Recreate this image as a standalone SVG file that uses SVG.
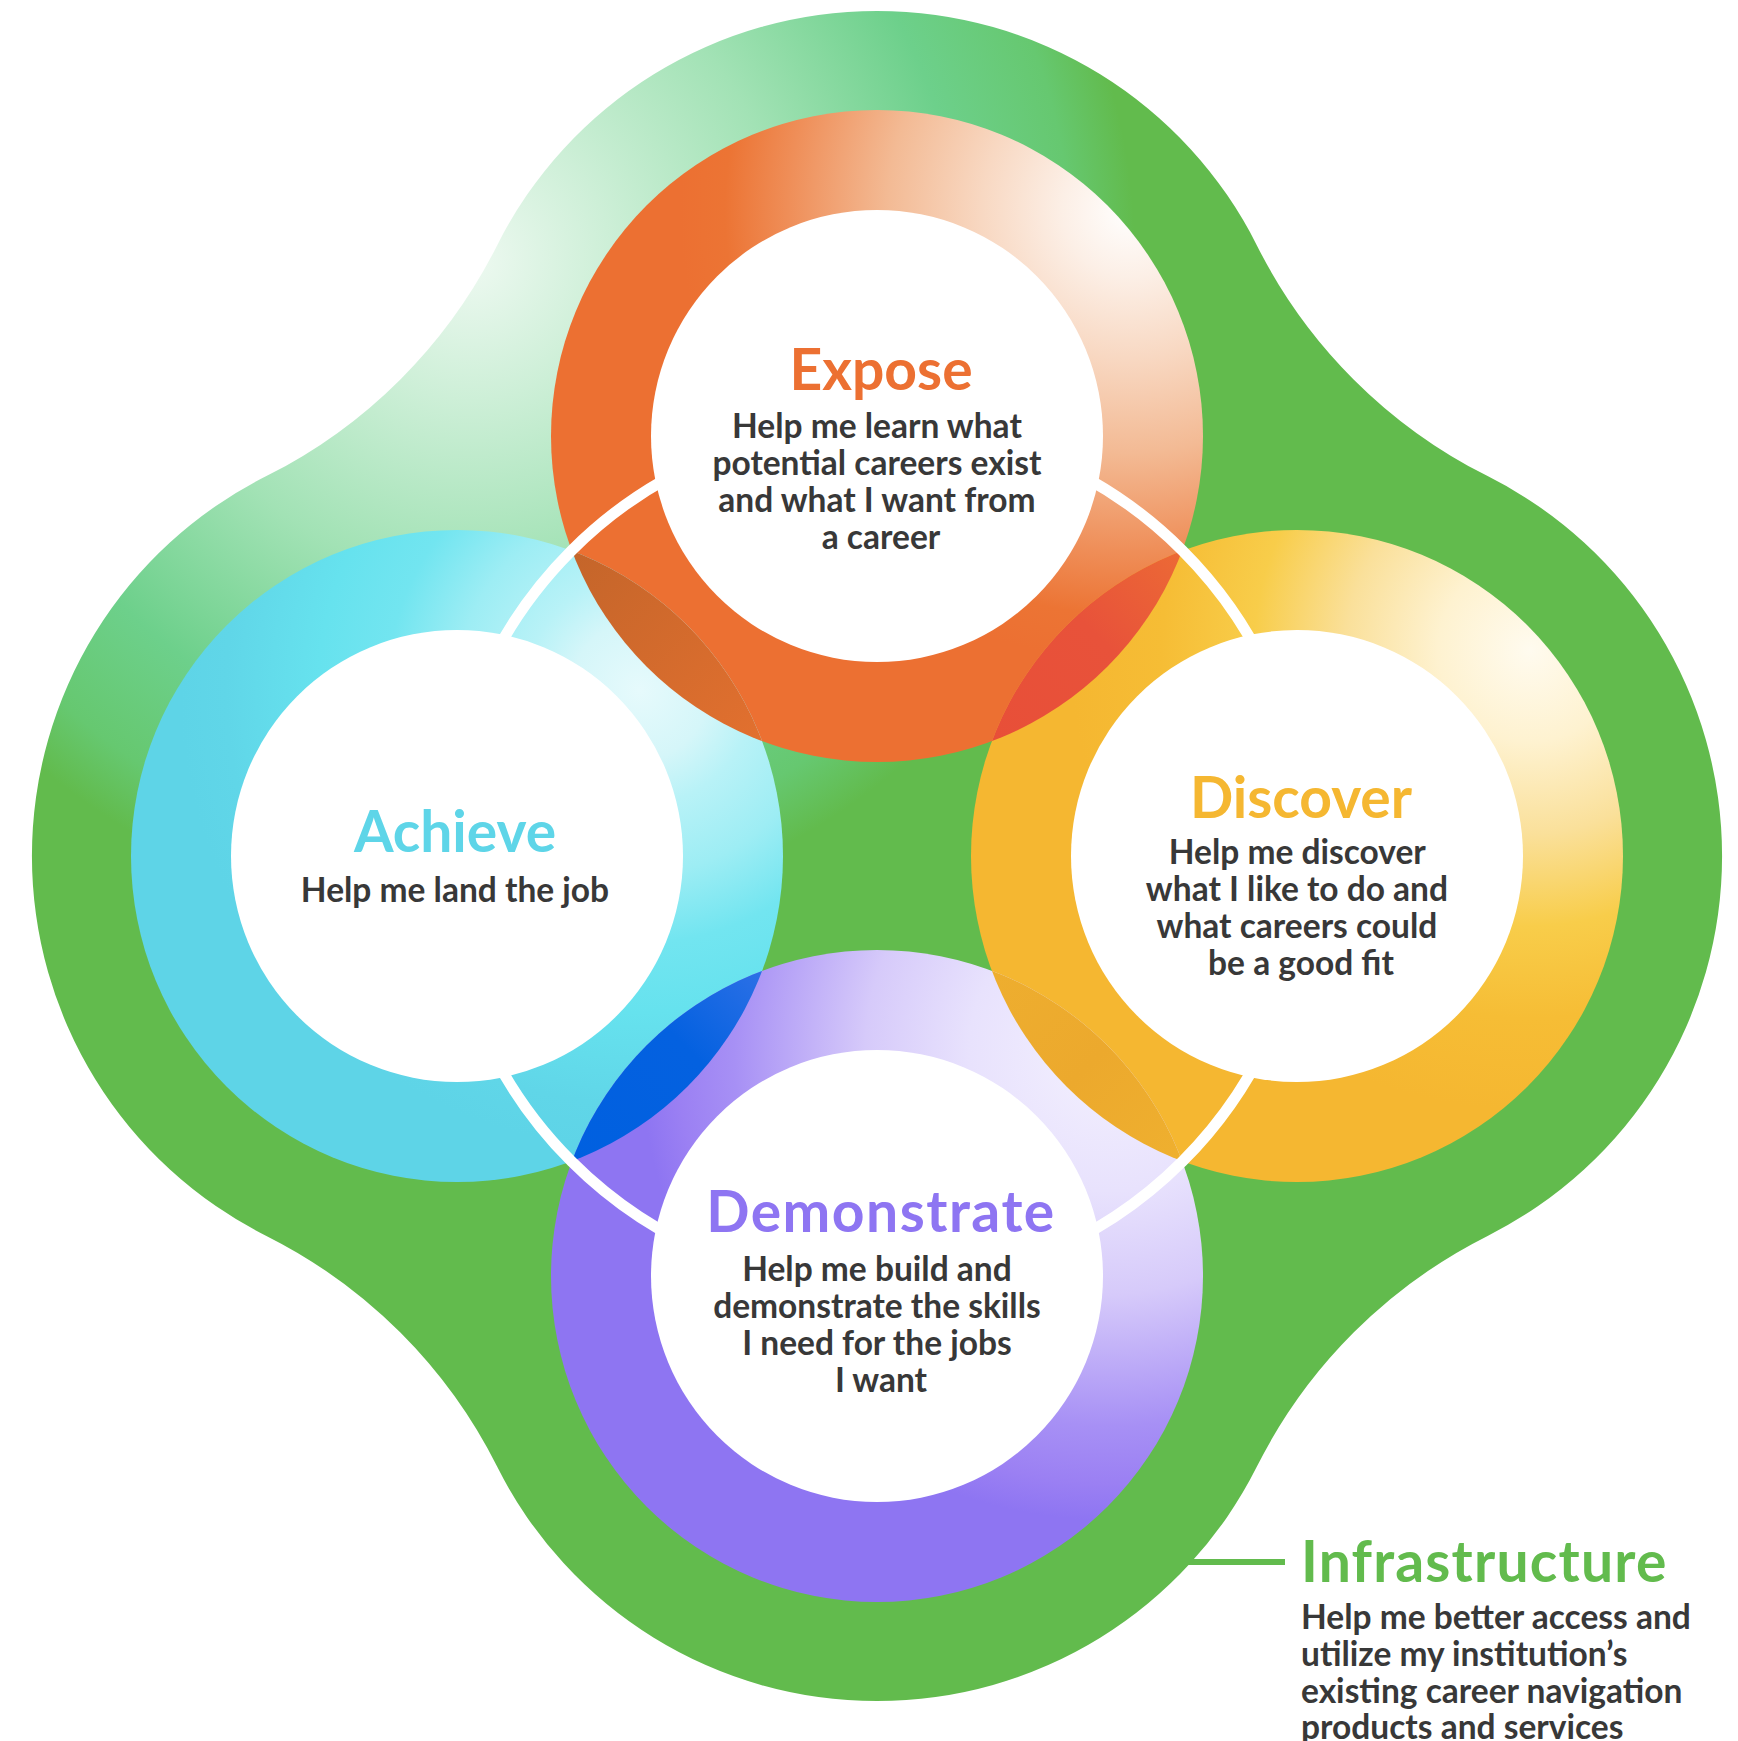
<svg xmlns="http://www.w3.org/2000/svg" width="1738" height="1741" viewBox="0 0 1738 1741">
  <defs>
    <style>
      .title { font-family: Lato, "Open Sans", "Liberation Sans", sans-serif; font-weight: 700; font-size: 57px; }
      .body { font-family: Lato, "Open Sans", "Liberation Sans", sans-serif; font-weight: 700; font-size: 33.5px; fill: #383838; }
      .mid { text-anchor: middle; }
      .inner { fill: #ffffff; }
    </style>
    <radialGradient id="gBlob" gradientUnits="userSpaceOnUse" cx="470" cy="260" r="700">
      <stop offset="0" stop-color="#EEF9F1"/>
      <stop offset="0.2" stop-color="#CDEFD7"/>
      <stop offset="0.45" stop-color="#A2E2B5"/>
      <stop offset="0.7" stop-color="#6DD08B"/>
      <stop offset="0.86" stop-color="#66C870"/>
      <stop offset="0.95" stop-color="#62BB4D"/>
      <stop offset="1" stop-color="#62BB4D"/>
    </radialGradient>
    <radialGradient id="gExpose" gradientUnits="userSpaceOnUse" cx="1130" cy="210" r="450">
      <stop offset="0" stop-color="#FFFFFF"/>
      <stop offset="0.15" stop-color="#FCEFE6"/>
      <stop offset="0.33" stop-color="#F8D8C2"/>
      <stop offset="0.54" stop-color="#F3BA94"/>
      <stop offset="0.76" stop-color="#EF8E58"/>
      <stop offset="0.9" stop-color="#EC7434"/>
      <stop offset="1" stop-color="#EC7032"/>
    </radialGradient>
    <radialGradient id="gAchieve" gradientUnits="userSpaceOnUse" cx="640" cy="690" r="460">
      <stop offset="0" stop-color="#E6FAFC"/>
      <stop offset="0.15" stop-color="#D5F6F9"/>
      <stop offset="0.25" stop-color="#B8F2F7"/>
      <stop offset="0.4" stop-color="#9DEDF4"/>
      <stop offset="0.55" stop-color="#72E5F0"/>
      <stop offset="0.7" stop-color="#66E2EE"/>
      <stop offset="0.9" stop-color="#60D6E8"/>
      <stop offset="1" stop-color="#5ED4E7"/>
    </radialGradient>
    <radialGradient id="gDiscover" gradientUnits="userSpaceOnUse" cx="1530" cy="650" r="460">
      <stop offset="0" stop-color="#FFFBEF"/>
      <stop offset="0.2" stop-color="#FEF2D0"/>
      <stop offset="0.4" stop-color="#FAE09A"/>
      <stop offset="0.6" stop-color="#F8CD4A"/>
      <stop offset="0.8" stop-color="#F6BD35"/>
      <stop offset="1" stop-color="#F5B731"/>
    </radialGradient>
    <radialGradient id="gDemo" gradientUnits="userSpaceOnUse" cx="1110" cy="1050" r="470">
      <stop offset="0" stop-color="#F4F1FE"/>
      <stop offset="0.3" stop-color="#E8E2FD"/>
      <stop offset="0.52" stop-color="#D6CAFA"/>
      <stop offset="0.8" stop-color="#A790F5"/>
      <stop offset="0.92" stop-color="#9B80F3"/>
      <stop offset="1" stop-color="#8E75F2"/>
    </radialGradient>
    <linearGradient id="gLensEA" gradientUnits="userSpaceOnUse" x1="572" y1="551" x2="762" y2="741">
      <stop offset="0" stop-color="#C4652A"/>
      <stop offset="1" stop-color="#E2702F"/>
    </linearGradient>
    <linearGradient id="gLensED" gradientUnits="userSpaceOnUse" x1="1182" y1="551" x2="992" y2="741">
      <stop offset="0" stop-color="#EC6A35"/>
      <stop offset="0.45" stop-color="#E8523A"/>
      <stop offset="1" stop-color="#E84F38"/>
    </linearGradient>
    <linearGradient id="gLensAM" gradientUnits="userSpaceOnUse" x1="572" y1="1161" x2="762" y2="971">
      <stop offset="0" stop-color="#0060E0"/>
      <stop offset="0.6" stop-color="#0461E0"/>
      <stop offset="1" stop-color="#2C70E6"/>
    </linearGradient>
    <linearGradient id="gLensDM" gradientUnits="userSpaceOnUse" x1="1182" y1="1161" x2="992" y2="971">
      <stop offset="0" stop-color="#EFB02F"/>
      <stop offset="0.5" stop-color="#ECA92D"/>
      <stop offset="1" stop-color="#EEAE2F"/>
    </linearGradient>
    <clipPath id="cExpose"><circle cx="877" cy="436" r="326"/></clipPath>
    <clipPath id="cDemo"><circle cx="877" cy="1276" r="326"/></clipPath>
  </defs>

  <g id="node-infrastructure">
    <path d="M497.1,245.4 A425,425 0 0 1 1256.9,245.4 A518,518 0 0 0 1487.6,476.1 A425,425 0 0 1 1487.6,1235.9 A518,518 0 0 0 1256.9,1466.6 A425,425 0 0 1 497.1,1466.6 A518,518 0 0 0 266.4,1235.9 A425,425 0 0 1 266.4,476.1 A518,518 0 0 0 497.1,245.4 Z" fill="url(#gBlob)"/>
    <text class="title" x="1301" y="1582" fill="#62BB4D" font-size="59.5" letter-spacing="1.2">Infrastructure</text>
    <text class="body">
      <tspan x="1301" y="1629">Help me better access and</tspan>
      <tspan x="1301" y="1666">utilize my institution’s</tspan>
      <tspan x="1301" y="1703">existing career navigation</tspan>
      <tspan x="1301" y="1739">products and services</tspan>
    </text>
  </g>

  <g id="connectors">
    <line x1="1160" y1="1562" x2="1285" y2="1562" stroke="#62BB4D" stroke-width="6"/>
  </g>

  <g id="rings">
    <circle cx="877" cy="436" r="326" fill="url(#gExpose)"/>
    <circle cx="457" cy="856" r="326" fill="url(#gAchieve)"/>
    <circle cx="1297" cy="856" r="326" fill="url(#gDiscover)"/>
    <circle cx="877" cy="1276" r="326" fill="url(#gDemo)"/>
  </g>

  <g id="overlaps">
    <circle cx="457" cy="856" r="326" fill="url(#gLensEA)" clip-path="url(#cExpose)"/>
    <circle cx="1297" cy="856" r="326" fill="url(#gLensED)" clip-path="url(#cExpose)"/>
    <circle cx="457" cy="856" r="326" fill="url(#gLensAM)" clip-path="url(#cDemo)"/>
    <circle cx="1297" cy="856" r="326" fill="url(#gLensDM)" clip-path="url(#cDemo)"/>
    <circle cx="877" cy="856" r="432" fill="none" stroke="#ffffff" stroke-width="11"/>
  </g>

  <g id="node-expose">
    <circle class="inner" cx="877" cy="436" r="226"/>
    <text class="title mid" x="881" y="390" fill="#EC7032">Expose</text>
    <text class="body mid">
      <tspan x="881" y="438">Help me learn what</tspan>
      <tspan x="881" y="475">potential careers exist</tspan>
      <tspan x="881" y="512">and what I want from</tspan>
      <tspan x="881" y="549">a career</tspan>
    </text>
  </g>

  <g id="node-achieve">
    <circle class="inner" cx="457" cy="856" r="226"/>
    <text class="title mid" x="455" y="852" fill="#5ED5E8">Achieve</text>
    <text class="body mid" x="455" y="902">Help me land the job</text>
  </g>

  <g id="node-discover">
    <circle class="inner" cx="1297" cy="856" r="226"/>
    <text class="title mid" x="1301" y="818" fill="#F5B731">Discover</text>
    <text class="body mid">
      <tspan x="1301" y="864">Help me discover</tspan>
      <tspan x="1301" y="901">what I like to do and</tspan>
      <tspan x="1301" y="938">what careers could</tspan>
      <tspan x="1301" y="975">be a good fit</tspan>
    </text>
  </g>

  <g id="node-demonstrate">
    <circle class="inner" cx="877" cy="1276" r="226"/>
    <text class="title mid" x="881" y="1232" fill="#8E75F2" font-size="59.5" letter-spacing="1.5">Demonstrate</text>
    <text class="body mid">
      <tspan x="881" y="1281">Help me build and</tspan>
      <tspan x="881" y="1318">demonstrate the skills</tspan>
      <tspan x="881" y="1355">I need for the jobs</tspan>
      <tspan x="881" y="1392">I want</tspan>
    </text>
  </g>
</svg>
